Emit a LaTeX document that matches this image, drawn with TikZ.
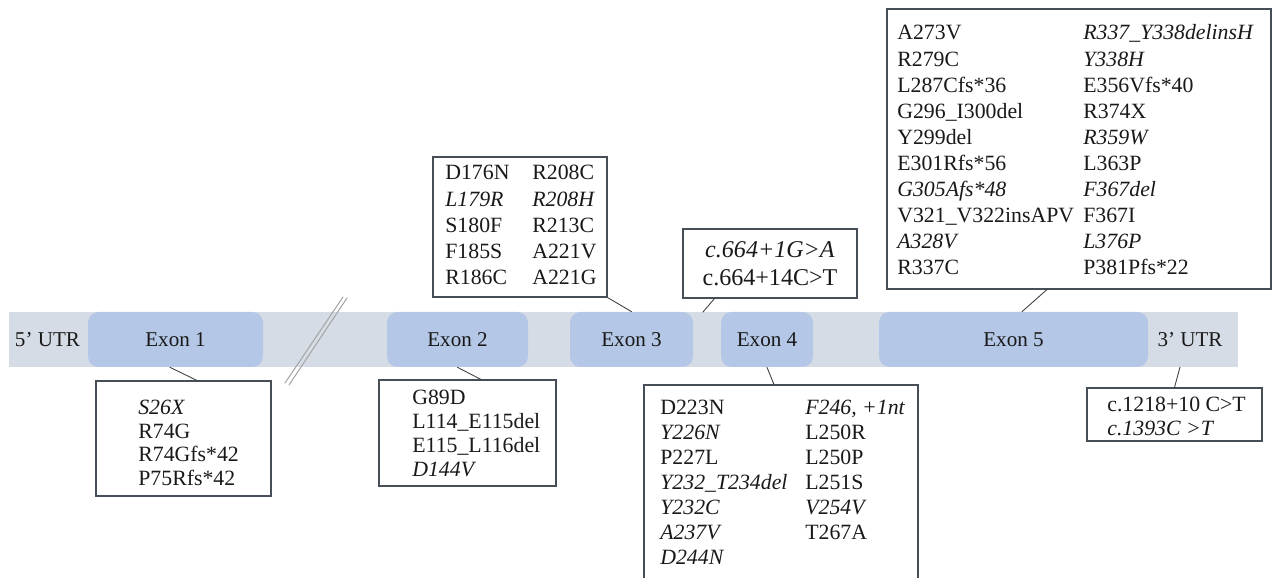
\documentclass[tikz,border=0pt]{standalone}
\usepackage{fontspec}
\setmainfont{Liberation Serif}
\usepackage{xcolor}
\definecolor{exonblue}{RGB}{180,199,231}
\definecolor{genegray}{RGB}{214,220,229}
\definecolor{boxline}{RGB}{70,78,88}

\begin{document}
\begin{tikzpicture}[line cap=round,text=black!90,
  exon/.style={fill=exonblue,rounded corners=6pt,minimum height=1.1cm,inner sep=0pt,font=\fontsize{12}{14}\selectfont},
  utr/.style={inner sep=0pt,font=\fontsize{12}{14}\selectfont},
  mutbox/.style={draw=boxline,line width=0.6pt,fill=white,inner sep=0pt},
  mut/.style={inner sep=0pt,anchor=base west,font=\fontsize{12.4}{#1}\selectfont},
  link/.style={draw=black!75,line width=0.5pt}]
\useasboundingbox (0,0) rectangle (25.48,11.54);
\node[fill=genegray,minimum width=24.58cm,minimum height=1.1cm,inner sep=0pt] (gene) at (12.47,4.75) {};
\draw[gray!70,line width=0.6pt] (5.7,3.88) -- (6.86,5.6);
\draw[gray!70,line width=0.6pt] (5.78,3.84) -- (6.94,5.58);
\node[exon,minimum width=3.5cm] (ex1) at (3.51,4.75) {Exon 1};
\node[exon,minimum width=2.82cm] (ex2) at (9.15,4.75) {Exon 2};
\node[exon,minimum width=2.46cm] (ex3) at (12.63,4.75) {Exon 3};
\node[exon,minimum width=1.84cm] (ex4) at (15.34,4.75) {Exon 4};
\node[exon,minimum width=5.38cm] (ex5) at (20.27,4.75) {Exon 5};
\node[utr] (utr5) at (0.95,4.75) {5’ UTR};
\node[utr] (utr3) at (23.8,4.75) {3’ UTR};

\node[mutbox,minimum width=3.5cm,minimum height=2.3cm] (b1) at (3.67,2.77) {};
\node[mut=13.3pt] (t1) at (2.76,3.24) {\begin{tabular}[t]{@{}l@{}}
\textit{S26X}\\ R74G\\ R74Gfs*42\\ P75Rfs*42\end{tabular}};
\node[mutbox,minimum width=3.54cm,minimum height=2.12cm] (b2) at (9.35,2.88) {};
\node[mut=13.5pt] (t2) at (8.24,3.44) {\begin{tabular}[t]{@{}l@{}}
G89D\\ L114\_E115del\\ E115\_L116del\\ \textit{D144V}\end{tabular}};
\node[mutbox,minimum width=3.48cm,minimum height=2.8cm] (b3) at (10.4,7.0) {};
\node[mut=14.9pt] (t3) at (8.9,7.94) {\begin{tabular}[t]{@{}p{1.74cm}@{}l@{}}
D176N & R208C\\ \textit{L179R} & \textit{R208H}\\ S180F & R213C\\
F185S & A221V\\ R186C & A221G\end{tabular}};
\node[mutbox,minimum width=3.48cm,minimum height=1.38cm] (b4) at (15.4,6.27) {};
\node[inner sep=0pt,align=center,font=\fontsize{13.7}{15.9}\selectfont] (t4) at (b4) {\textit{c.664+1G>A}\\ c.664+14C>T};
\node[mutbox,minimum width=7.68cm,minimum height=5.6cm] (b5) at (21.58,8.56) {};
\node[mut=14.8pt] (t5) at (17.94,10.74) {\begin{tabular}[t]{@{}p{3.72cm}@{}l@{}}
A273V & \textit{R337\_Y338delinsH}\\
R279C & \textit{Y338H}\\
L287Cfs*36 & E356Vfs*40\\
G296\_I300del & R374X\\
Y299del & \textit{R359W}\\
E301Rfs*56 & L363P\\
\textit{G305Afs*48} & \textit{F367del}\\
V321\_V322insAPV & F367I\\
\textit{A328V} & \textit{L376P}\\
R337C & P381Pfs*22\end{tabular}};
\node[mutbox,minimum width=5.48cm,minimum height=4.3cm] (b6) at (15.62,1.69) {};
\node[mut=14.2pt] (t6) at (13.2,3.24) {\begin{tabular}[t]{@{}p{2.9cm}@{}l@{}}
D223N & \textit{F246, +1nt}\\
\textit{Y226N} & L250R\\
P227L & L250P\\
\textit{Y232\_T234del} & L251S\\
\textit{Y232C} & \textit{V254V}\\
\textit{A237V} & T267A\\
\textit{D244N} & \end{tabular}};
\node[mutbox,minimum width=3.5cm,minimum height=1.06cm] (b7) at (23.49,3.25) {};
\node[mut=13.1pt] (t7) at (22.14,3.30) {\begin{tabular}[t]{@{}l@{}}
c.1218+10 C>T\\ \textit{c.1393C >T}\end{tabular}};

\coordinate (i34) at (14.06,5.3);
\coordinate (u3) at (23.6,4.2);
\draw[link] ([xshift=-0.11cm]ex1.south) -- ([xshift=0.27cm]b1.north);
\draw[link] (ex2.south) -- ([xshift=0.27cm]b2.north);
\draw[link] (b3.south east) -- (ex3.north);
\draw[link] ([xshift=0.64cm]b4.south west) -- (i34);
\draw[link] ([xshift=-0.64cm]b5.south) -- ([xshift=0.17cm]ex5.north);
\draw[link] (ex4.south) -- ([xshift=-0.14cm]b6.north);
\draw[link] (u3) -- (b7.north);
\end{tikzpicture}
\end{document}
